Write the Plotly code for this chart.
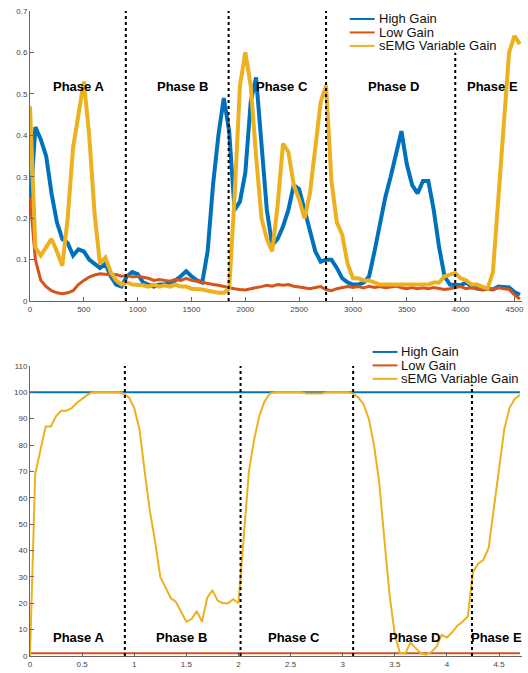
import plotly.graph_objects as go

# ---------------- data: top panel (samples) ----------------
sample_step = 50
high_gain_top = [0.22, 0.42, 0.39, 0.35, 0.26, 0.19, 0.15, 0.14, 0.11, 0.125,
                 0.12, 0.10, 0.09, 0.08, 0.09, 0.06, 0.04, 0.035, 0.06, 0.07,
                 0.065, 0.045, 0.04, 0.035, 0.04, 0.04, 0.045, 0.05, 0.06, 0.072,
                 0.06, 0.05, 0.045, 0.12, 0.28, 0.40, 0.49, 0.41, 0.22, 0.24,
                 0.31, 0.48, 0.54, 0.39, 0.22, 0.135, 0.15, 0.18, 0.22, 0.28,
                 0.27, 0.22, 0.17, 0.12, 0.095, 0.10, 0.10, 0.08, 0.055, 0.045,
                 0.04, 0.04, 0.045, 0.06, 0.12, 0.19, 0.25, 0.30, 0.36, 0.41,
                 0.33, 0.28, 0.26, 0.29, 0.29, 0.22, 0.13, 0.06, 0.04, 0.04,
                 0.038, 0.045, 0.035, 0.03, 0.028, 0.03, 0.028, 0.035, 0.035, 0.033,
                 0.022, 0.015]
low_gain_top = [0.25, 0.10, 0.05, 0.035, 0.025, 0.02, 0.018, 0.02, 0.025, 0.04,
                0.05, 0.058, 0.063, 0.066, 0.065, 0.063, 0.064, 0.06, 0.062, 0.058,
                0.06, 0.057, 0.055, 0.05, 0.052, 0.05, 0.048, 0.052, 0.05, 0.055,
                0.05, 0.048, 0.045, 0.042, 0.04, 0.038, 0.035, 0.032, 0.03, 0.028,
                0.027, 0.03, 0.032, 0.035, 0.038, 0.036, 0.04, 0.038, 0.04, 0.036,
                0.034, 0.032, 0.03, 0.033, 0.035, 0.028, 0.025, 0.03, 0.032, 0.035,
                0.033, 0.035, 0.032, 0.036, 0.033, 0.035, 0.032, 0.034, 0.036, 0.032,
                0.03, 0.033, 0.03, 0.032, 0.03, 0.033, 0.03, 0.028, 0.03, 0.032,
                0.035, 0.03, 0.032, 0.03, 0.028, 0.03, 0.028, 0.032, 0.03, 0.028,
                0.015, 0.005]
semg_top = [0.47, 0.13, 0.11, 0.13, 0.15, 0.12, 0.085, 0.20, 0.37, 0.45,
            0.53, 0.40, 0.21, 0.09, 0.105, 0.07, 0.05, 0.04, 0.045, 0.04,
            0.04, 0.038, 0.035, 0.04, 0.035, 0.038, 0.035, 0.04, 0.035, 0.035,
            0.03, 0.03, 0.028, 0.025, 0.022, 0.02, 0.02, 0.03, 0.25, 0.52,
            0.60, 0.52, 0.35, 0.20, 0.15, 0.12, 0.23, 0.38, 0.36, 0.28,
            0.245, 0.20, 0.26, 0.37, 0.48, 0.52, 0.29, 0.19, 0.16, 0.09,
            0.055, 0.055, 0.05, 0.05, 0.045, 0.04, 0.04, 0.04, 0.04, 0.04,
            0.042, 0.04, 0.04, 0.042, 0.04, 0.045, 0.045, 0.06, 0.065, 0.068,
            0.055, 0.05, 0.04, 0.04, 0.035, 0.03, 0.07, 0.25, 0.45, 0.60,
            0.64, 0.62]
samples = [i * sample_step for i in range(len(high_gain_top))]
top_boundaries = [890, 1845, 2750, 3950]
top_phase_x = [455, 1414, 2338, 3375, 4292]
top_ticks = [0, 500, 1000, 1500, 2000, 2500, 3000, 3500, 4000, 4500]
top_yticks = [0, 0.1, 0.2, 0.3, 0.4, 0.5, 0.6, 0.7]
top_yticktext = ["0", "0.1", "0.2", "0.3", "0.4", "0.5", "0.6", "0.7"]

# ---------------- data: bottom panel (gain %) ----------------
time_step = 0.05
semg_gain_pct = [0, 69, 78, 87, 87, 91, 93, 93, 94, 96,
                 97.5, 99, 100, 100, 100, 100, 100, 100, 99.5, 98,
                 94, 86, 70, 55, 43.5, 30, 26, 22, 20.5, 17,
                 13, 14, 17, 13, 22, 25, 21, 20, 20, 21.5,
                 20, 45, 70, 82, 91, 96.5, 99.5, 100, 100, 100,
                 100, 100, 100, 99.5, 99.5, 99.5, 99.5, 100, 100, 100,
                 100, 100, 99.5, 98, 95.5, 90, 80, 66, 44, 23,
                 8, 1, 1, 5, 3, 1, 0.5, 1.5, 3.5, 8,
                 7, 9, 11.5, 13, 15, 32, 35, 36.5, 41, 55,
                 71, 86, 94, 97.5, 99]
time_s = [round(i * time_step, 2) for i in range(len(semg_gain_pct))]
high_gain_pct = [100] * len(time_s)
low_gain_pct = [1] * len(time_s)
bottom_boundaries = [0.91, 2.02, 3.10, 4.24]
bottom_phase_x = [0.47, 1.458, 2.537, 3.684, 4.48]
bottom_ticks = [0, 0.5, 1, 1.5, 2, 2.5, 3, 3.5, 4, 4.5]
bottom_ticktext = ["0", "0.5", "1", "1.5", "2", "2.5", "3", "3.5", "4", "4.5"]
bottom_yticks = [0, 10, 20, 30, 40, 50, 60, 70, 80, 90, 100, 110]

phase_names = ["Phase A", "Phase B", "Phase C", "Phase D", "Phase E"]
series_names = ["High Gain", "Low Gain", "sEMG Variable Gain"]
colors = ["#0072BD", "#D95319", "#EDB120"]

# ---------------- figure ----------------
W, H = 528, 673
ML, MR, MT, MB = 30, 4, 11, 15
PW, PH = W - ML - MR, H - MT - MB


def px_x(px):
    return (px - ML) / PW


def px_y(py):
    return (H - MB - py) / PH


fig = go.Figure()
for name, vals, col, w in zip(series_names, [high_gain_top, low_gain_top, semg_top],
                              colors, [4, 3, 4]):
    fig.add_trace(go.Scatter(x=samples, y=vals, name=name, mode="lines",
                             line=dict(color=col, width=w), showlegend=False,
                             xaxis="x", yaxis="y"))
for name, vals, col in zip(series_names, [high_gain_pct, low_gain_pct, semg_gain_pct], colors):
    fig.add_trace(go.Scatter(x=time_s, y=vals, name=name, mode="lines",
                             line=dict(color=col, width=2), showlegend=False,
                             xaxis="x2", yaxis="y2"))

shapes = []
for b in top_boundaries:
    shapes.append(dict(type="line", xref="x", yref="y", x0=b, x1=b, y0=0, y1=0.7,
                       line=dict(color="black", width=2, dash="dot"), layer="above"))
for b in bottom_boundaries:
    shapes.append(dict(type="line", xref="x2", yref="y2", x0=b, x1=b, y0=0, y1=110,
                       line=dict(color="black", width=2, dash="dot"), layer="above"))

annotations = []
for name, xv in zip(phase_names, top_phase_x):
    annotations.append(dict(x=xv, y=0.517, xref="x", yref="y", text="<b>%s</b>" % name,
                            showarrow=False, font=dict(size=13, color="black",
                                                       family="Liberation Sans, Arial")))
for name, xv in zip(phase_names, bottom_phase_x):
    annotations.append(dict(x=xv, y=7, xref="x2", yref="y2", text="<b>%s</b>" % name,
                            showarrow=False, font=dict(size=13, color="black",
                                                       family="Liberation Sans, Arial")))

# legends (compact, drawn as text + sample lines)
legend_layouts = [
    dict(box=(348, 9, 502, 53), line=(351, 376), text_x=378, rows=[19, 32.5, 46]),
    dict(box=(371, 345, 524, 386), line=(374, 399), text_x=400, rows=[353, 366.5, 380]),
]
for lg in legend_layouts:
    bx0, by0, bx1, by1 = lg["box"]
    shapes.append(dict(type="rect", xref="paper", yref="paper",
                       x0=px_x(bx0), x1=px_x(bx1), y0=px_y(by1), y1=px_y(by0),
                       fillcolor="white", line=dict(width=0), layer="above"))
    for name, col, ry in zip(series_names, colors, lg["rows"]):
        shapes.append(dict(type="line", xref="paper", yref="paper",
                           x0=px_x(lg["line"][0]), x1=px_x(lg["line"][1]),
                           y0=px_y(ry), y1=px_y(ry), line=dict(color=col, width=2),
                           layer="above"))
        annotations.append(dict(x=px_x(lg["text_x"]), y=px_y(ry), xref="paper", yref="paper",
                                text=name, showarrow=False, xanchor="left", yanchor="middle",
                                font=dict(size=13, color="#111",
                                          family="Liberation Sans, Arial")))

axis_common = dict(showline=True, linecolor="#666", linewidth=1, mirror=False,
                   ticks="inside", ticklen=4, tickcolor="#666", showgrid=False,
                   zeroline=False, tickfont=dict(size=8, color="#444",
                                                 family="Liberation Sans, Arial"))

top_dom = [px_y(302), 1]
bot_dom = [0, px_y(367)]

fig.update_layout(
    width=W, height=H,
    margin=dict(l=ML, r=MR, t=MT, b=MB),
    paper_bgcolor="white", plot_bgcolor="white",
    showlegend=False,
    xaxis=dict(domain=[0, 1], anchor="y", range=[0, 4570], tickvals=top_ticks, **axis_common),
    yaxis=dict(domain=top_dom, anchor="x", range=[0, 0.7], tickvals=top_yticks,
               ticktext=top_yticktext, **axis_common),
    xaxis2=dict(domain=[0, 1], anchor="y2", range=[0, 4.72], tickvals=bottom_ticks,
                ticktext=bottom_ticktext, **axis_common),
    yaxis2=dict(domain=bot_dom, anchor="x2", range=[0, 110], tickvals=bottom_yticks,
                **axis_common),
    shapes=shapes,
    annotations=annotations,
)

fig.write_html("out.html",
               config={"displayModeBar": False},
               post_script="document.body.style.margin='0px';"
                           "document.body.style.overflow='hidden';")
